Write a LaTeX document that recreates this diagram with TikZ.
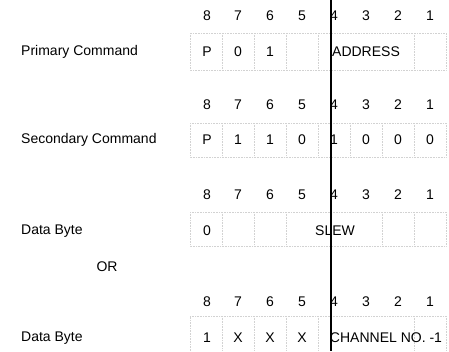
\documentclass[tikz,border=0pt]{standalone}
\usepackage{fontspec}
\setmainfont{Liberation Sans}
\begin{document}
\begin{tikzpicture}[x=1pt,y=-1pt,
  txt/.style={inner sep=0pt,font=\fontsize{14}{16}\selectfont},
  lbl/.style={txt,anchor=west},
  cellline/.style={draw=gray!35,densely dotted,line width=0.6pt},
  divider/.style={draw=black,line width=1.6pt}]
\useasboundingbox (0,0) rectangle (449,351);

% row labels
\node[lbl] (l1) at (21,52) {Primary Command};
\node[lbl] (l2) at (21,140) {Secondary Command};
\node[lbl] (l3) at (21,231) {Data Byte};
\node[txt] (or) at (107,267) {OR};
\node[lbl] (l4) at (21,338) {Data Byte};

% bit numbers
\foreach \r/\y in {1/16,2/105,3/195,4/302}{
  \foreach \b/\x in {8/207,7/238,6/270,5/302,4/334,3/366,2/398,1/430}{
    \node[txt] (n\r-\b) at (\x,\y) {\b};
  }
}

% boxes
\draw[cellline] (190,33) rectangle (446,70);
\foreach \x in {222,254,286,318,414} \draw[cellline] (\x,33) -- (\x,70);
\draw[cellline] (190,123) rectangle (446,157);
\foreach \x in {222,254,286,318,350,382,414} \draw[cellline] (\x,123) -- (\x,157);
\draw[cellline] (190,212) rectangle (446,246);
\foreach \x in {222,254,286,382,414} \draw[cellline] (\x,212) -- (\x,246);
\draw[cellline] (190,351) -- (190,316) -- (446,316) -- (446,351);
\foreach \x in {222,254,286,318,414} \draw[cellline] (\x,316) -- (\x,351);

% row 1
\node[txt] (a8) at (207,52) {P};
\node[txt] (a7) at (238,52) {0};
\node[txt] (a6) at (270,52) {1};
\node[txt] (addr) at (366,52) {ADDRESS};
% row 2
\foreach \b/\x/\t in {8/207/P,7/238/1,6/270/1,5/302/0,4/334/1,3/366/0,2/398/0,1/430/0}{
  \node[txt] (b\b) at (\x,140) {\t};
}
% row 3
\node[txt] (c8) at (207,231) {0};
\node[txt] (slew) at (335,231) {SLEW};
% row 4
\node[txt] (d8) at (207,338) {1};
\node[txt] (d7) at (238,338) {X};
\node[txt] (d6) at (270,338) {X};
\node[txt] (d5) at (302,338) {X};
\node[txt] (chan) at (386,338) {CHANNEL NO. -1};

% nibble divider
\coordinate (vt) at (331,0);
\coordinate (vb) at (331,351);
\draw[divider] (vt) -- (vb);
\end{tikzpicture}
\end{document}
